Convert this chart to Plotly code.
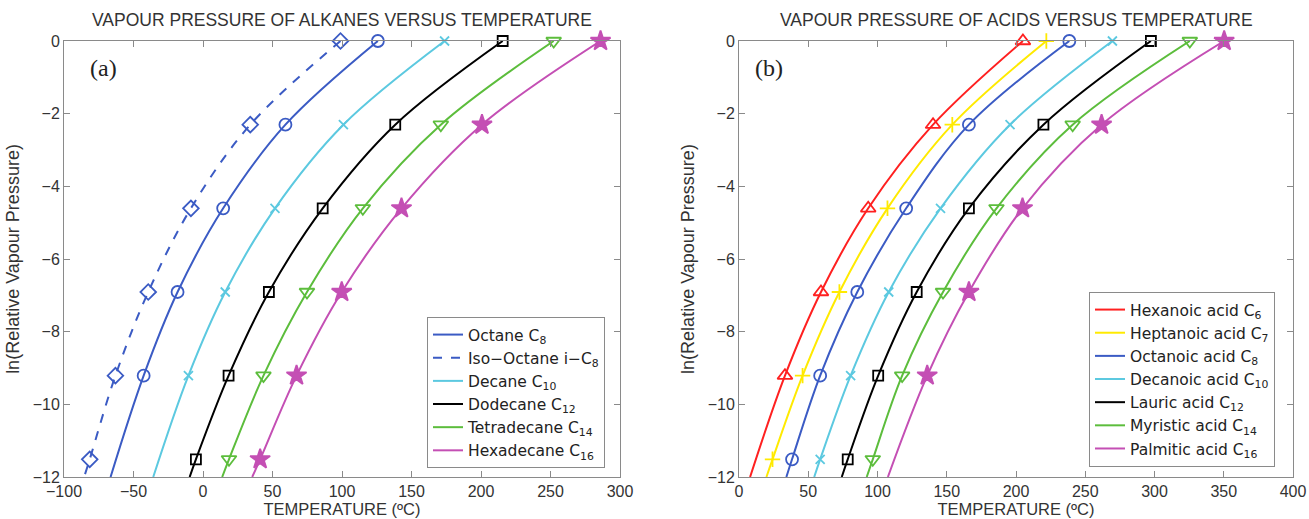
import plotly.graph_objects as go

# ln(relative vapour pressure) levels where markers are drawn
LN_P = [0.0, -2.303, -4.605, -6.908, -9.210, -11.513]
LN_END = -12.0  # curves run down to the axis floor

# ---------------- Alkanes (panel a): temperature (degC) at each LN_P level
alk_names = ["Octane C<sub>8</sub>", "Iso\u2212Octane i\u2212C<sub>8</sub>", "Decane C<sub>10</sub>",
             "Dodecane C<sub>12</sub>", "Tetradecane C<sub>14</sub>", "Hexadecane C<sub>16</sub>"]
octane_T = [125.8, 59.3, 14.5, -18.3, -42.7, None]
isooctane_T = [98.9, 34.0, -8.7, -39.4, -63.0, -81.5]
decane_T = [173.8, 101.0, 51.8, 16.0, -10.5, None]
dodecane_T = [215.6, 138.3, 86.1, 47.4, 18.4, -5.1]
tetradecane_T = [252.3, 171.1, 115.0, 74.8, 43.5, 18.7]
hexadecane_T = [286.0, 200.7, 142.8, 99.8, 67.3, 41.1]
alk_T = [octane_T, isooctane_T, decane_T, dodecane_T, tetradecane_T, hexadecane_T]
alk_T_end = [-66.5, -85.5, -35.8, -9.6, 13.8, 35.4]

# ---------------- Acids (panel b)
acid_names = ["Hexanoic acid C<sub>6</sub>", "Heptanoic acid C<sub>7</sub>", "Octanoic acid C<sub>8</sub>",
              "Decanoic acid C<sub>10</sub>", "Lauric acid C<sub>12</sub>", "Myristic acid C<sub>14</sub>",
              "Palmitic acid C<sub>16</sub>"]
hexanoic_T = [205.0, 140.1, 93.3, 59.2, 33.2, None]
heptanoic_T = [221.9, 154.0, 107.2, 72.5, 45.9, 24.2]
octanoic_T = [238.5, 166.0, 120.7, 85.4, 58.6, 38.3]
decanoic_T = [269.6, 195.7, 145.5, 108.1, 80.6, 58.6]
lauric_T = [297.4, 219.8, 166.0, 128.3, 100.5, 78.5]
myristic_T = [325.5, 240.9, 185.9, 147.3, 117.8, 96.6]
palmitic_T = [350.3, 261.8, 204.7, 166.0, 135.9, None]
acid_T = [hexanoic_T, heptanoic_T, octanoic_T, decanoic_T, lauric_T, myristic_T, palmitic_T]
acid_T_end = [8.0, 19.8, 34.2, 54.3, 74.2, 92.2, 107.5]

# ---------------- styles
BLUE, CYAN, BLACK, GREEN, MAGENTA = "#3b5bc4", "#5cc9e0", "#000000", "#5cbd3c", "#c44fb4"
RED, YELLOW = "#ff2020", "#ffea00"
alk_style = [
    (BLUE, "solid", "circle-open", 12),
    (BLUE, "dash", "diamond-open", 12),
    (CYAN, "solid", "x-thin-open", 9),
    (BLACK, "solid", "square-open", 10),
    (GREEN, "solid", "triangle-down-open", 13),
    (MAGENTA, "solid", "star", 15),
]
acid_style = [
    (RED, "solid", "triangle-up-open", 13),
    (YELLOW, "solid", "cross-thin-open", 11),
    (BLUE, "solid", "circle-open", 12),
    (CYAN, "solid", "x-thin-open", 9),
    (BLACK, "solid", "square-open", 10),
    (GREEN, "solid", "triangle-down-open", 13),
    (MAGENTA, "solid", "star", 15),
]

FONT = "Liberation Sans, Arial, sans-serif"
LFONT = "DejaVu Sans, Liberation Sans, sans-serif"
W, H = 1309, 519
L_X = (64, 620)
R_X = (739, 1293)
Y_PX = (41, 477)
TXT = "#333333"

fig = go.Figure()


def add_series(names, temps, ends, styles, xa, ya, legend):
    for name, T, tend, (col, dash, sym, msize) in zip(names, temps, ends, styles):
        mx = [t for t in T if t is not None]
        my = [l for t, l in zip(T, LN_P) if t is not None]
        fig.add_trace(go.Scatter(
            x=mx + [tend], y=my + [LN_END], mode="lines", name=name,
            line=dict(color=col, width=2, dash=dash, shape="spline", smoothing=1.0),
            xaxis=xa, yaxis=ya, legend=legend, showlegend=True))
        fig.add_trace(go.Scatter(
            x=mx, y=my, mode="markers", showlegend=False, hoverinfo="skip",
            marker=dict(symbol=sym, size=msize, color=col,
                        line=dict(color=col, width=1.8)),
            xaxis=xa, yaxis=ya, cliponaxis=False))


add_series(alk_names, alk_T, alk_T_end, alk_style, "x", "y", "legend")
add_series(acid_names, acid_T, acid_T_end, acid_style, "x2", "y2", "legend2")

ydom = [1 - Y_PX[1] / H, 1 - Y_PX[0] / H]
axis_common = dict(showline=True, linecolor="#8a8a8a", linewidth=1, mirror="ticks",
                   ticks="inside", ticklen=6, tickcolor="#8a8a8a", showgrid=False,
                   zeroline=False, automargin=False,
                   tickfont=dict(family=FONT, size=16, color=TXT))
xtitle = dict(text="TEMPERATURE (\u00baC)", font=dict(family=FONT, size=16.5, color=TXT), standoff=0)
ytitle = dict(text="ln(Relative Vapour Pressure)", font=dict(family=FONT, size=18, color=TXT), standoff=8)

legend_common = dict(xanchor="left", yanchor="top", bordercolor="#8a8a8a", borderwidth=1,
                     bgcolor="white", font=dict(family=LFONT, size=15.5, color="#222"),
                     itemwidth=30, tracegroupgap=0)

fig.update_layout(
    width=W, height=H, margin=dict(l=0, r=0, t=0, b=0, autoexpand=False),
    paper_bgcolor="white", plot_bgcolor="white",
    xaxis=dict(domain=[L_X[0] / W, L_X[1] / W], range=[-100, 300], dtick=50, anchor="y",
               title=xtitle, **axis_common),
    yaxis=dict(domain=ydom, range=[-12, 0], dtick=2, anchor="x", title=ytitle, **axis_common),
    xaxis2=dict(domain=[R_X[0] / W, R_X[1] / W], range=[0, 400], dtick=50, anchor="y2",
                title=xtitle, **axis_common),
    yaxis2=dict(domain=ydom, range=[-12, 0], dtick=2, anchor="x2", title=ytitle, **axis_common),
    legend=dict(x=427 / W, y=1 - 317 / H, **legend_common),
    legend2=dict(x=1089 / W, y=1 - 292 / H, **legend_common),
    showlegend=True,
)

fig.add_annotation(text="VAPOUR PRESSURE OF ALKANES VERSUS TEMPERATURE", xref="paper", yref="paper",
                   x=(L_X[0] + L_X[1]) / 2 / W, y=1 - 20 / H, showarrow=False,
                   xanchor="center", yanchor="middle", font=dict(family=FONT, size=17.5, color=TXT))
fig.add_annotation(text="VAPOUR PRESSURE OF ACIDS VERSUS TEMPERATURE", xref="paper", yref="paper",
                   x=(R_X[0] + R_X[1]) / 2 / W, y=1 - 20 / H, showarrow=False,
                   xanchor="center", yanchor="middle", font=dict(family=FONT, size=17.5, color=TXT))
fig.add_annotation(text="(a)", xref="paper", yref="paper", x=88 / W, y=1 - 68 / H, showarrow=False,
                   xanchor="left", yanchor="middle",
                   font=dict(family="Liberation Serif, Times New Roman, serif", size=24, color="#222"))
fig.add_annotation(text="(b)", xref="paper", yref="paper", x=753 / W, y=1 - 68 / H, showarrow=False,
                   xanchor="left", yanchor="middle",
                   font=dict(family="Liberation Serif, Times New Roman, serif", size=24, color="#222"))

fig.write_html("out.html", config={"displayModeBar": False},
               post_script="document.body.style.margin='0px';")
